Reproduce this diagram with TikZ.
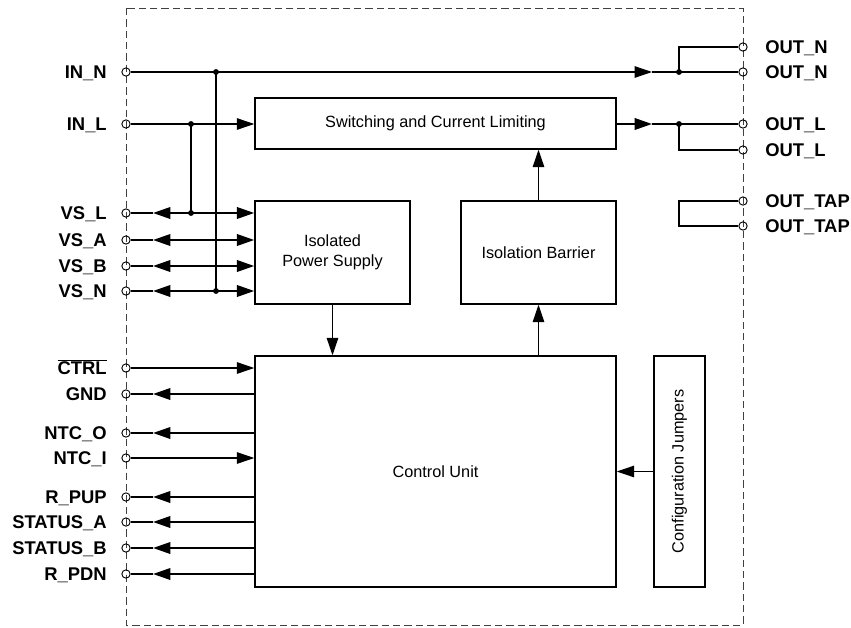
\documentclass[tikz,border=0pt]{standalone}
\usepackage{fontspec}
\setmainfont{Liberation Sans}
\usetikzlibrary{arrows.meta,calc}
\begin{document}
\begin{tikzpicture}[x=0.75pt,y=-0.75pt,
  wire/.style={line width=0.85pt},
  bus/.style={line width=1.6pt},
  tip/.style={-{Triangle[length=13pt,width=8.6pt]}},
  tiptwo/.style={{Triangle[length=13pt,width=8.6pt]}-{Triangle[length=13pt,width=8.6pt]}},
  frame/.style={line width=0.6pt,black!75,dash pattern=on 5.5pt off 3pt},
  pinc/.style={circle,draw,line width=0.7pt,inner sep=0pt,minimum size=6.2pt},
  block/.style={draw,line width=1.1pt,inner sep=0pt,font=\fontsize{12.2}{15}\selectfont,align=center},
  lblL/.style={anchor=east,inner sep=0pt,text height=9.9pt,text depth=0pt,font=\fontsize{13.8}{15}\selectfont\bfseries},
  lblR/.style={anchor=west,inner sep=0pt,text height=9.9pt,text depth=0pt,font=\fontsize{13.8}{15}\selectfont\bfseries},
  dot/.style={fill=black}
]
\useasboundingbox (0,0) rectangle (851,628);
\draw[frame] (126,8) rectangle (743,625);

% blocks
\node[block,minimum width={361*0.75pt},minimum height={51*0.75pt}] (sw) at (435.5,123.5) {Switching and Current Limiting};
\node[block,minimum width={155*0.75pt},minimum height={103*0.75pt}] (ps) at (332.5,252.5) {Isolated\\Power Supply};
\node[block,minimum width={155*0.75pt},minimum height={103*0.75pt}] (ib) at (538.5,252.5) {Isolation Barrier};
\node[block,minimum width={361*0.75pt},minimum height={231*0.75pt}] (cu) at (435.5,471.5) {Control Unit};
\node[block,minimum width={51*0.75pt},minimum height={231*0.75pt}] (cj) at (679.5,471.5) {};
\node[rotate=90,inner sep=0pt,font=\fontsize{12.2}{15}\selectfont] (cjt) at (cj.center) {Configuration Jumpers};

% left pins
\foreach \n/\y in {INN/72,INL/124,VSL/213,VSA/240,VSB/266,VSN/291,CTRL/368,GND/394,NTCO/433,NTCI/458,RPUP/497,STA/522,STB/548,RPDN/574}
  \node[pinc] (p\n) at (126,\y) {};
% right pins
\foreach \n/\y in {OUTNa/47,OUTNb/72,OUTLa/124,OUTLb/150,TAPa/201,TAPb/226}
  \node[pinc] (p\n) at (743,\y) {};

% left labels
\node[lblL] (lINN) at (107,72) {IN\_N};
\node[lblL] (lINL) at (107,124) {IN\_L};
\node[lblL] (lVSL) at (107,213) {VS\_L};
\node[lblL] (lVSA) at (107,240) {VS\_A};
\node[lblL] (lVSB) at (107,266) {VS\_B};
\node[lblL] (lVSN) at (107,291) {VS\_N};
\node[lblL] (lCTRL) at (107,368) {$\overline{\mbox{\fontsize{13.8}{15}\selectfont\bfseries CTRL}}$};
\node[lblL] (lGND) at (107,394) {GND};
\node[lblL] (lNTCO) at (107,433) {NTC\_O};
\node[lblL] (lNTCI) at (107,458) {NTC\_I};
\node[lblL] (lRPUP) at (107,497) {R\_PUP};
\node[lblL] (lSTA) at (107,522) {STATUS\_A};
\node[lblL] (lSTB) at (107,548) {STATUS\_B};
\node[lblL] (lRPDN) at (107,574) {R\_PDN};
% right labels
\node[lblR] (lOUTNa) at (765,47) {OUT\_N};
\node[lblR] (lOUTNb) at (765,72) {OUT\_N};
\node[lblR] (lOUTLa) at (765,124) {OUT\_L};
\node[lblR] (lOUTLb) at (765,150) {OUT\_L};
\node[lblR] (lTAPa) at (765,201) {OUT\_TAP};
\node[lblR] (lTAPb) at (765,226) {OUT\_TAP};

% junction coordinates
\coordinate (jINN) at (216,72);
\coordinate (jVSN) at (216,291);
\coordinate (jINL) at (191,124);
\coordinate (jVSL) at (191,213);
\coordinate (aN) at (652,72);
\coordinate (aL) at (652,124);
\coordinate (jOUTN) at (679,72);
\coordinate (jOUTL) at (679,124);
\coordinate (tA) at (679,201);
\coordinate (tB) at (679,226);

% IN_N path
\draw[wire,tip] (pINN) -- (aN);
\draw[wire] (aN) -- (pOUTNb);
\draw[wire] (jOUTN) |- (pOUTNa);
\draw[wire] (jINN) -- (jVSN);
% IN_L path
\draw[wire,tip] (pINL) -- (sw.west |- pINL);
\draw[wire] (jINL) -- (jVSL);
% switching output
\draw[bus,tip] (sw.east |- aL) -- (aL);
\draw[wire] (aL) -- (pOUTLa);
\draw[wire] (jOUTL) |- (pOUTLb);
% OUT_TAP bridge
\draw[wire] (pTAPa) -- (tA) -- (tB) -- (pTAPb);

% VS lines
\foreach \n in {VSL,VSA,VSB,VSN} {
  \coordinate (t\n) at ($(p\n)+(27,0)$);
  \draw[wire] (p\n) -- (t\n);
  \draw[bus,tiptwo] (t\n) -- (ps.west |- p\n);
}
% control inputs
\foreach \n in {CTRL,NTCI}
  \draw[wire,tip] (p\n) -- (cu.west |- p\n);
% control outputs
\foreach \n in {GND,NTCO,RPUP,STA,STB,RPDN} {
  \coordinate (t\n) at ($(p\n)+(27,0)$);
  \draw[wire] (p\n) -- (t\n);
  \draw[bus,tip] (cu.west |- p\n) -- (t\n);
}

% internal arrows
\draw[wire,tip] (ps.south) -- (ps.south |- cu.north);
\draw[wire,tip] (cu.north -| ib.south) -- (ib.south);
\draw[wire,tip] (ib.north) -- (ib.north |- sw.south);
\draw[wire,tip] (cj.west) -- (cu.east |- cj.west);

% junction dots
\foreach \j in {jINN,jVSN,jINL,jVSL,jOUTN,jOUTL}
  \fill[dot] (\j) circle (2.2pt);
\end{tikzpicture}
\end{document}
